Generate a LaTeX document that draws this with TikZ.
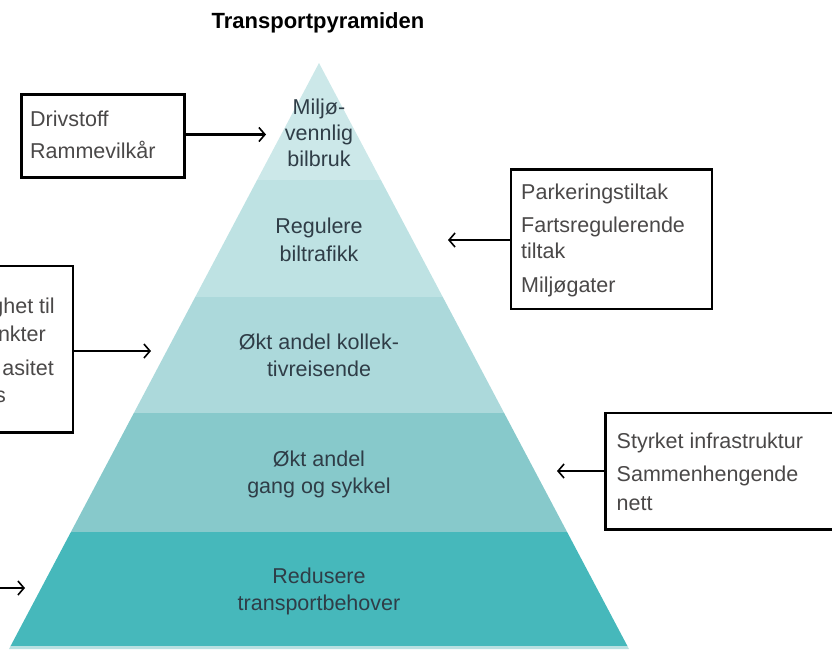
\documentclass[tikz,border=0pt]{standalone}
\usepackage{fontspec}
\setmainfont{Liberation Sans}
\usetikzlibrary{arrows.meta}
\definecolor{bandA}{HTML}{CCE8E9}
\definecolor{bandB}{HTML}{BEE2E3}
\definecolor{bandC}{HTML}{ACD9DB}
\definecolor{bandD}{HTML}{87C9CB}
\definecolor{bandE}{HTML}{46B8BB}
\definecolor{bandF}{HTML}{B8E0E1}
\definecolor{pyrtext}{HTML}{2F3D47}
\definecolor{boxtext}{HTML}{4A4848}
\tikzset{
  boxframe/.style={draw=black, line width=2.6pt, inner sep=0pt, fill=none},
  boxline/.style={inner sep=0pt, anchor=base west, text=boxtext, font=\fontsize{21.5}{26}\selectfont},
  boxlineR/.style={inner sep=0pt, anchor=base east, text=boxtext, font=\fontsize{21.5}{26}\selectfont},
  pyrline/.style={inner sep=0pt, anchor=base, text=pyrtext, font=\fontsize{21.5}{26}\selectfont},
  conn/.style={draw=black, line width=2.4pt, -{Straight Barb[length=6pt,width=14pt,line width=1.6pt]}},
}
\begin{document}
\begin{tikzpicture}[x=1pt,y=-1pt]
\useasboundingbox (0,0) rectangle (832,649);
% pyramid bands
\begin{scope}
  \clip (319,63) -- (9,649) -- (629,649) -- cycle;
  \fill[bandA] (0,55) rectangle (832,180);
  \fill[bandB] (0,180) rectangle (832,297);
  \fill[bandC] (0,297) rectangle (832,413);
  \fill[bandD] (0,413) rectangle (832,532);
  \fill[bandE] (0,532) rectangle (832,646);
  \fill[bandF] (0,646) rectangle (832,650);
\end{scope}
% title
\node[inner sep=0pt, anchor=base, font=\bfseries\fontsize{22}{26}\selectfont, text=black] (title) at (318,28) {Transportpyramiden};
% pyramid labels
\node[pyrline] (p1a) at (319,114.5) {Miljø-};
\node[pyrline] (p1b) at (319,140) {vennlig};
\node[pyrline] (p1c) at (319,166.5) {bilbruk};
\node[pyrline] (p2a) at (319,233) {Regulere};
\node[pyrline] (p2b) at (319,261.5) {biltrafikk};
\node[pyrline] (p3a) at (319,349) {Økt andel kollek-};
\node[pyrline] (p3b) at (319,376) {tivreisende};
\node[pyrline] (p4a) at (319,466) {Økt andel};
\node[pyrline] (p4b) at (319,493) {gang og sykkel};
\node[pyrline] (p5a) at (319,583) {Redusere};
\node[pyrline] (p5b) at (319,610) {transportbehover};
% boxes
\node[boxframe, minimum width=163pt, minimum height=83pt] (b1) at (103.1,135.8) {};
\node[boxframe, minimum width=201pt, minimum height=139.3pt] (b2) at (611.5,239.3) {};
\node[boxframe, minimum width=113pt, minimum height=166.7pt] (b3) at (16.5,349.3) {};
\node[boxframe, minimum width=254.7pt, minimum height=116.7pt] (b4) at (732.6,471.2) {};
% box texts
\node[boxline] (b1a) at (30,126.5) {Drivstoff};
\node[boxline] (b1b) at (30,158) {Rammevilkår};
\node[boxline] (b2a) at (521,199) {Parkeringstiltak};
\node[boxline] (b2b) at (521,232.7) {Fartsregulerende};
\node[boxline] (b2c) at (521,258.3) {tiltak};
\node[boxline] (b2d) at (521,292) {Miljøgater};
\node[boxlineR] (b3a) at (55,313) {ghet til};
\node[boxlineR] (b3b) at (46,341) {nkter};
\node[boxlineR] (b3c) at (54,375) {asitet};
\node[boxlineR] (b3d) at (6,402) {s};
\node[boxline] (b4a) at (616.5,448) {Styrket infrastruktur};
\node[boxline] (b4b) at (616.5,481) {Sammenhengende};
\node[boxline] (b4c) at (616.5,510) {nett};
% connectors
\coordinate (t1) at (266,134.5);
\coordinate (t2) at (448,240);
\coordinate (t3) at (151,351);
\coordinate (t4) at (557,471);
\coordinate (s5) at (-10,588);
\coordinate (t5) at (25,588);
\draw[conn] (b1.east |- t1) -- (t1);
\draw[conn] (b2.west |- t2) -- (t2);
\draw[conn] (b3.east |- t3) -- (t3);
\draw[conn] (b4.west |- t4) -- (t4);
\draw[conn] (s5) -- (t5);
\end{tikzpicture}
\end{document}
